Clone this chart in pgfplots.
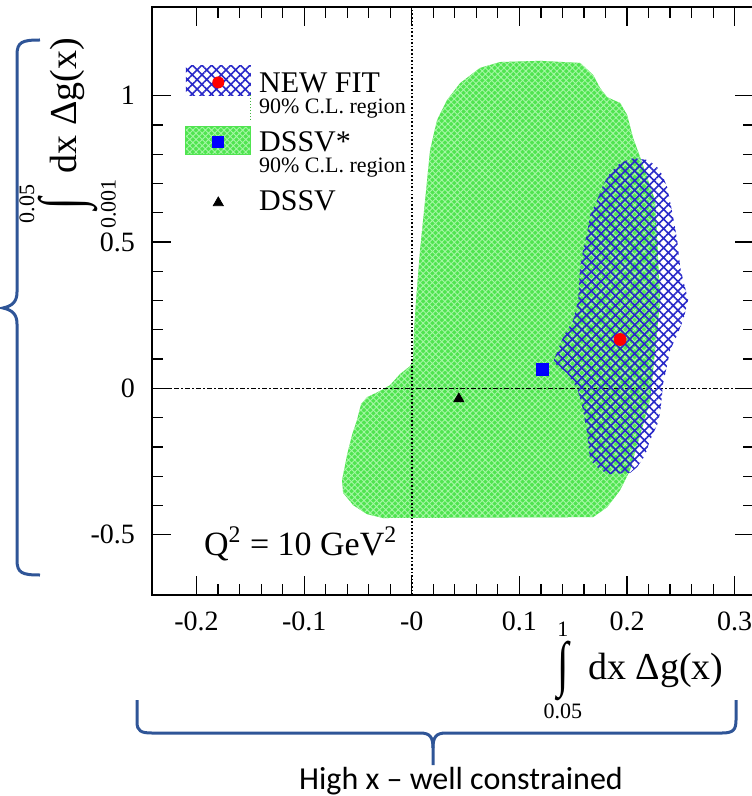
\documentclass[border=0pt]{standalone}
\usepackage{graphicx}
\usepackage{fontspec}
\setmainfont{Liberation Serif}
\newfontfamily\carlito{Carlito}
\usepackage{pgfplots}
\pgfplotsset{compat=1.18}
\usetikzlibrary{patterns.meta}

\definecolor{dssvgreen}{RGB}{80,228,80}
\definecolor{dssvlight}{RGB}{165,247,165}
\definecolor{fitblue}{RGB}{40,40,200}
\definecolor{bracecol}{RGB}{47,85,151}

% integral sign with limits set above and below
\newcommand{\lint}[2]{$\mathop{\vcenter{\hbox{\scalebox{1.1}[1.6]{∫}}}}\limits_{\hbox{\fontsize{11}{12}\selectfont #1}}^{\hbox{\fontsize{11}{12}\selectfont #2}}$}

\begin{document}
\begin{tikzpicture}
\useasboundingbox (0,0) rectangle (375.5pt,-398pt);
\begin{axis}[
  at={(76pt,-297.35pt)}, anchor=south west,
  scale only axis, width=301pt, height=293.85pt,
  xmin=-0.2414, xmax=0.318, ymin=-0.705, ymax=1.303,
  axis line style={line width=0.8pt},
  tick align=inside,
  major tick length=9.5pt, minor tick length=5.5pt,
  every tick/.style={black, line width=0.6pt},
  xtick={-0.2,-0.1,0,0.1,0.2,0.3},
  xticklabels={-0.2,-0.1,-0,0.1,0.2,0.3},
  ytick={-0.5,0,0.5,1},
  yticklabels={-0.5,0,0.5,1},
  minor x tick num=4, minor y tick num=4,
  tick label style={font=\fontsize{14}{16}\selectfont},
  xticklabel style={yshift=-5pt},
  yticklabel style={xshift=-5pt},
  xlabel={\lint{0.05}{1}\,dx Δg(x)},
  xlabel style={at={(axis description cs:0.80,-0.129)}, anchor=center, inner sep=0pt,
    font=\fontsize{19}{22}\selectfont},
  ylabel={\lint{0.001}{0.05}\,dx Δg(x)},
  ylabel style={at={(axis description cs:-0.14,0.785)}, anchor=center, inner sep=0pt,
    font=\fontsize{19}{22}\selectfont},
  legend style={at={(rel axis cs:0.0548,0.9013)}, anchor=north west, draw=none, fill=none,
    inner sep=0pt, column sep=4pt, row sep=5pt,
    nodes={inner sep=0pt, anchor=base west, text height=12pt, text depth=12pt},
    font=\fontsize{15}{17}\selectfont},
  legend cell align=left,
]
% DSSV* 90% C.L. region
\addplot[draw=none, fill=dssvgreen, forget plot,
  postaction={pattern={Hatch[angle=45,distance=2.2pt,line width=0.45pt]}, pattern color=dssvlight}]
  coordinates {(-0.0638,-0.357) (-0.0648,-0.313) (-0.0601,-0.227) (-0.0555,-0.159) (-0.0509,-0.108)
  (-0.0471,-0.054) (-0.0415,-0.030) (-0.0295,-0.009) (-0.0202,0.011) (-0.0109,0.049) (-0.0016,0.076)
  (0.0012,0.097) (0.0021,0.199) (0.0040,0.302) (0.0077,0.473) (0.0124,0.643) (0.0170,0.814)
  (0.0235,0.917) (0.0328,0.985) (0.0449,1.043) (0.0635,1.095) (0.0821,1.115) (0.1192,1.119)
  (0.1564,1.112) (0.1685,1.071) (0.1750,1.026) (0.1815,0.995) (0.1936,0.975) (0.2001,0.934)
  (0.2057,0.855) (0.2122,0.790) (0.2261,0.643) (0.2308,0.302) (0.2215,-0.040) (0.2029,-0.279)
  (0.1936,-0.348) (0.1815,-0.406) (0.1685,-0.440) (-0.0267,-0.443) (-0.0415,-0.430) (-0.0545,-0.399)} --cycle;
% zero lines
\addplot[black, densely dotted, line width=0.8pt, forget plot] coordinates {(0,-0.705) (0,1.303)};
\addplot[black, dash pattern=on 2.5pt off 1.2pt on 0.6pt off 1.2pt, line width=0.7pt, forget plot]
  coordinates {(-0.2414,0) (0.318,0)};
% NEW FIT 90% C.L. region
\addplot[draw=none, forget plot,
  pattern={Hatch[angle=45,distance=3.4pt,line width=0.8pt]}, pattern color=fitblue]
  coordinates {(0.2057,0.787) (0.1936,0.770) (0.1843,0.736) (0.1778,0.695) (0.1722,0.643)
  (0.1657,0.592) (0.1629,0.531) (0.1592,0.473) (0.1564,0.415) (0.1546,0.302) (0.1499,0.233)
  (0.1406,0.175) (0.1313,0.090) (0.1443,0.052) (0.1536,0.001) (0.1592,-0.074) (0.1629,-0.153)
  (0.1657,-0.245) (0.1750,-0.279) (0.1843,-0.293) (0.2029,-0.289) (0.2094,-0.269) (0.2169,-0.228)
  (0.2215,-0.176) (0.2280,-0.125) (0.2308,-0.084) (0.2336,0.018) (0.2373,0.080) (0.2401,0.131)
  (0.2466,0.182) (0.2522,0.233) (0.2568,0.302) (0.2522,0.370) (0.2494,0.415) (0.2466,0.507)
  (0.2429,0.585) (0.2373,0.688) (0.2327,0.729) (0.2280,0.756) (0.2197,0.780)} --cycle;
% central values
\addplot[only marks, mark=*, mark size=3pt, color=red, forget plot] coordinates {(0.1936,0.167)};
\addplot[only marks, mark=square*, mark size=3pt, color=blue, forget plot] coordinates {(0.1217,0.066)};
\addplot[only marks, mark=triangle*, mark size=2.9pt, color=black, forget plot] coordinates {(0.0437,-0.036)};

\node[anchor=base west, font=\fontsize{17}{20}\selectfont] at (rel axis cs:0.0748,0.0675)
  {Q\textsuperscript{2} = 10 GeV\textsuperscript{2}};

\addlegendimage{legend image code/.code={
  \fill[draw=none, pattern={Hatch[angle=45,distance=3.4pt,line width=0.8pt]}, pattern color=fitblue] (0pt,-1.5pt) rectangle (32.5pt,13.5pt);
  \draw[overlay, dssvgreen!80!black, densely dotted, line width=0.5pt] (32.5pt,-1.5pt) -- (32.5pt,-15pt);
  \fill[draw=none, red] (16.25pt,5pt) circle (3pt);}}
\addlegendentry{\vtop{\baselineskip=10.5pt\hbox{NEW FIT}\hbox{\fontsize{11}{12}\selectfont 90\% C.L. region}}}
\addlegendimage{legend image code/.code={
  \fill[draw=none, dssvgreen, postaction={pattern={Hatch[angle=45,distance=2.2pt,line width=0.45pt]}, pattern color=dssvlight}] (0pt,-1.5pt) rectangle (32.5pt,12.5pt);
  \fill[draw=none, blue] (13.25pt,2pt) rectangle (19.25pt,8pt);}}
\addlegendentry{\vtop{\baselineskip=10.5pt\hbox{DSSV*}\hbox{\fontsize{11}{12}\selectfont 90\% C.L. region}}}
\addlegendimage{only marks, mark=triangle*, mark size=2.9pt, black,
  legend image code/.code={
  \path[draw=none, fill=none] (0pt,-1.5pt) rectangle (32.5pt,12.5pt);
  \draw[mark repeat=2, mark phase=2] plot coordinates {(0pt,4pt) (16.25pt,4pt) (32.5pt,4pt)};}}
\addlegendentry{DSSV}
\end{axis}

\begin{scope}[x=0.5pt, y=-0.5pt, bracecol, line width=1.5pt]
\draw (40,40) .. controls (22,40) and (17,42) .. (17,55) -- (17,292)
  .. controls (17,302) and (12,306) .. (3,308) .. controls (12,310) and (17,314) .. (17,324)
  -- (17,560) .. controls (17,573) and (22,575) .. (40,575);
\draw (137,700) -- (137,722) .. controls (137,731) and (141,733) .. (152,733) -- (420,733)
  .. controls (430,733) and (433,737) .. (433,748) -- (433,765);
\draw (433,748) .. controls (433,737) and (436,733) .. (446,733) -- (722,733)
  .. controls (733,733) and (736,730) .. (736,720) -- (736,700);
\node[anchor=base, black, font=\carlito\fontsize{16}{19}\selectfont] at (461,789) {High x – well constrained};
\end{scope}
\end{tikzpicture}
\end{document}
